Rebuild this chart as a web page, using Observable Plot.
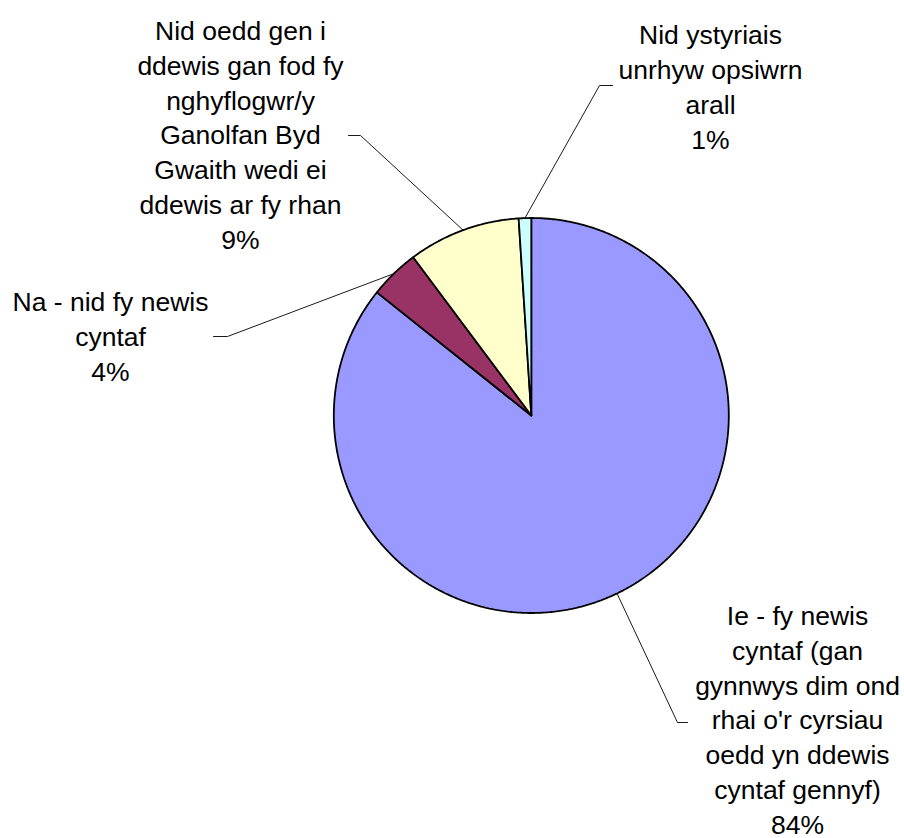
<!DOCTYPE html>
<html>
<head>
<meta charset="utf-8">
<script src="https://cdn.jsdelivr.net/npm/d3@7"></script>
<script src="https://cdn.jsdelivr.net/npm/@observablehq/plot@0.6"></script>
<style>
  html, body { margin: 0; padding: 0; background: #ffffff; }
  #chart svg { display: block; }
</style>
</head>
<body>
<div id="chart"></div>
<script>
// ---- data ----
const categories = [
  "Ie - fy newis\ncyntaf (gan\ngynnwys dim ond\nrhai o'r cyrsiau\noedd yn ddewis\ncyntaf gennyf)",
  "Na - nid fy newis\ncyntaf",
  "Nid oedd gen i\nddewis gan fod fy\nnghyflogwr/y\nGanolfan Byd\nGwaith wedi ei\nddewis ar fy rhan",
  "Nid ystyriais\nunrhyw opsiwrn\narall"
];
const values = [84, 4, 9, 1];
const colors = ["#9999FF", "#993366", "#FFFFCC", "#CCFFFF"];

// ---- layout (page pixels) ----
const W = 904, H = 838;
const CX = 530.8, CY = 415, R = 197.5;
// label anchor = centre x / baseline of last line
const labelPos = [[797, 833], [110, 380], [240, 248], [710, 148]];
// leader elbow and end points
const leaderBend = [[677, 722], [227, 336], [360, 135], [599, 85]];
const leaderEnd = [[687, 722], [213, 336], [348, 135], [612, 85]];

// ---- geometry from data ----
const arcs = d3.pie().sort(null).startAngle(0).endAngle(2 * Math.PI)(values);
const polar = (a, r) => ({x: CX + r * Math.sin(a), y: CY - r * Math.cos(a)});

const slices = arcs.map((a, i) => {
  const n = Math.max(2, Math.ceil((a.endAngle - a.startAngle) / (Math.PI / 360)));
  const pts = [{x: CX, y: CY}];
  for (let k = 0; k <= n; ++k) pts.push(polar(a.startAngle + (a.endAngle - a.startAngle) * k / n, R));
  pts.push({x: CX, y: CY});
  return pts;
});

const leaders = arcs.map((a, i) => {
  const mid = (a.startAngle + a.endAngle) / 2;
  return [polar(mid, R), {x: leaderBend[i][0], y: leaderBend[i][1]}, {x: leaderEnd[i][0], y: leaderEnd[i][1]}];
});

const labels = values.map((v, i) => ({
  x: labelPos[i][0], y: labelPos[i][1], text: categories[i] + "\n" + v + "%"
}));

const marks = [];
slices.forEach((pts, i) => {
  marks.push(Plot.line(pts, {x: "x", y: "y", fill: colors[i], stroke: "#000000", strokeWidth: 1.8, strokeLinejoin: "miter", curve: "linear"}));
});
leaders.forEach(pts => {
  marks.push(Plot.line(pts, {x: "x", y: "y", stroke: "#000000", strokeWidth: 0.9, curve: "linear"}));
});
marks.push(Plot.text(labels, {
  x: "x", y: "y", text: "text",
  fontSize: 26.5, fontFamily: "'Liberation Sans', Arial, sans-serif",
  lineHeight: 1.31, lineAnchor: "bottom", textAnchor: "middle", fill: "#000000"
}));

const chart = Plot.plot({
  width: W, height: H, margin: 0,
  x: {domain: [0, W], range: [0, W], axis: null},
  y: {domain: [0, H], range: [0, H], axis: null},
  style: {background: "#ffffff", overflow: "visible"},
  marks
});
document.getElementById("chart").appendChild(chart);
</script>
</body>
</html>
